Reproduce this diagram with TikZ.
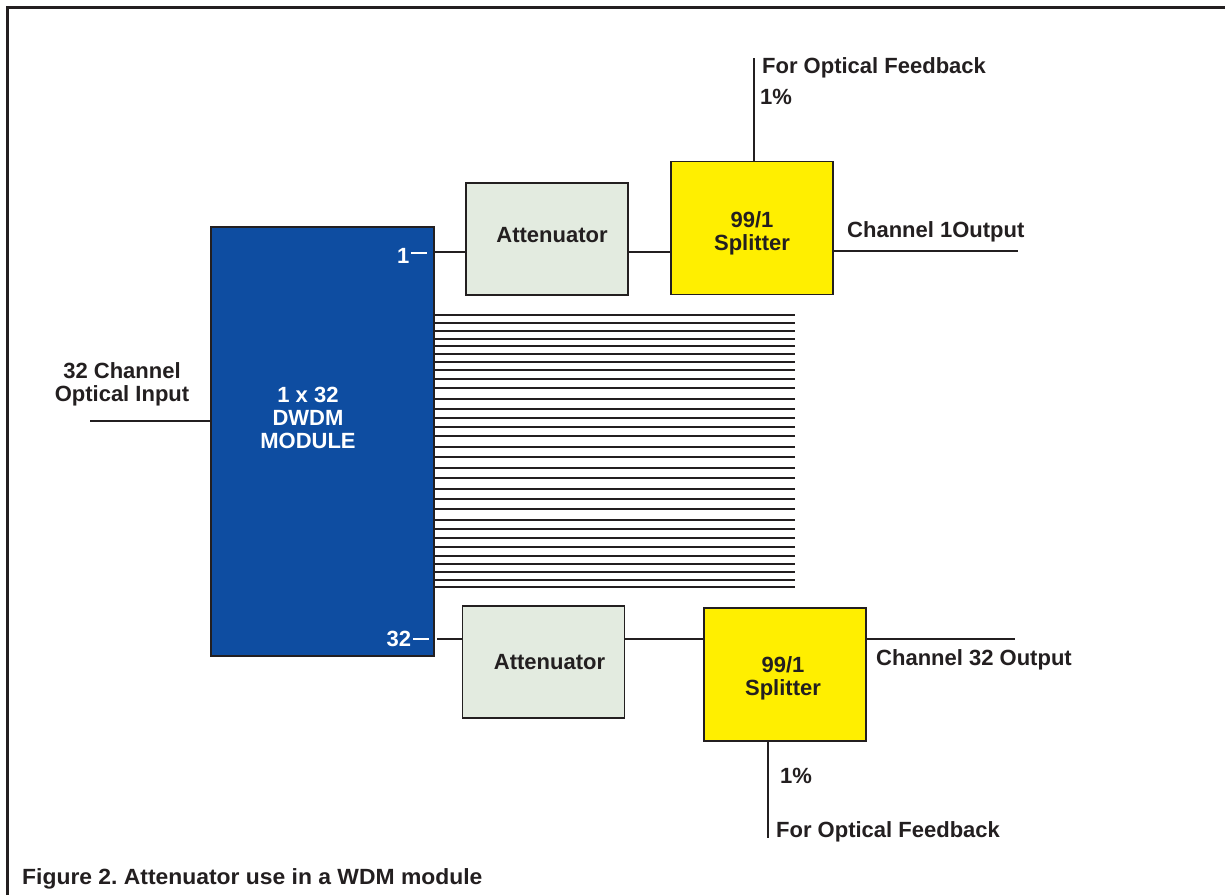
\documentclass[tikz,border=0pt]{standalone}
\usepackage{fontspec}
\setmainfont{Liberation Sans}
\frenchspacing
\definecolor{ink}{RGB}{35,31,32}
\definecolor{dwdmblue}{RGB}{14,77,161}
\definecolor{attfill}{RGB}{227,235,224}
\definecolor{splityellow}{RGB}{255,239,0}
\begin{document}
\begin{tikzpicture}[x=1pt,y=-1pt,
  lbl/.style={font=\fontsize{22}{23}\selectfont\bfseries, text=ink, inner sep=0pt, align=left},
  boxbase/.style={draw=ink, line width=1.8pt, inner sep=0pt},
  boxtext/.style={lbl, align=center},
  attbox/.style={boxbase, fill=attfill, minimum width=162pt, minimum height=112pt},
  splitbox/.style={boxbase, fill=splityellow, minimum width=162pt, minimum height=133pt},
  wire/.style={draw=ink, line width=1.8pt},
  busline/.style={draw=ink, line width=1.8pt},
  whitedash/.style={draw=white, line width=1.8pt}]
\useasboundingbox (0,0) rectangle (1225,895);
\fill[white] (0,0) rectangle (1225,895);
% frame
\draw[ink, line width=2.6pt] (7.5,895) -- (7.5,7.5) -- (1225,7.5);

% DWDM module
\node[draw=ink, line width=1.8pt, fill=dwdmblue, minimum width=223pt, minimum height=429pt, inner sep=0pt] (dwdm) at (322.5,441.5) {};
\node[lbl, text=white, align=center] (dwdmtext) at (308,418) {1 x 32\\DWDM\\MODULE};
\node[lbl, text=white, anchor=west] (port1) at (397,255.5) {1};
\coordinate (p1a) at (411,253);
\coordinate (p1b) at (427,253);
\draw[whitedash] (p1a) -- (p1b);
\node[lbl, text=white, anchor=west] (port32) at (386.5,638.5) {32};
\coordinate (p32a) at (413,639);
\coordinate (p32b) at (429,639);
\draw[whitedash] (p32a) -- (p32b);

% input
\coordinate (inp) at (90,421);
\draw[wire] (inp) -- (dwdm.west |- inp);
\node[lbl, align=center] (inlabel) at (122,384.5) {32 Channel\\Optical Input};

% top chain
\node[attbox, label={[boxtext, xshift=5pt, yshift=4pt]center:Attenuator}] (att1) at (547,239) {};
\node[splitbox, label={[boxtext, yshift=-5pt]center:99/1\\Splitter}] (spl1) at (752,228) {};
\draw[wire] (dwdm.east |- 0,252) -- (att1.west |- 0,252);
\draw[wire] (att1.east |- 0,252) -- (spl1.west |- 0,252);
\coordinate (out1) at (1018,251);
\draw[wire] (spl1.east |- out1) -- (out1);
\node[lbl, anchor=west] (out1label) at (847,232) {Channel 1Output};
\coordinate (fb1) at (754,58);
\draw[wire] (spl1.north -| fb1) -- (fb1);
\node[lbl, anchor=west] (fb1label) at (762,68) {For Optical Feedback};
\node[lbl, anchor=west] (fb1pct) at (760,97) {1\%};

% bottom chain
\node[attbox, label={[boxtext, xshift=6pt]center:Attenuator}] (att2) at (543.5,662) {};
\node[splitbox, label={[boxtext, xshift=-2pt, yshift=-4pt]center:99/1\\Splitter}] (spl2) at (785,674.5) {};
\coordinate (p32c) at (437,639);
\draw[wire] (p32c) -- (att2.west |- p32c);
\draw[wire] (att2.east |- p32c) -- (spl2.west |- p32c);
\coordinate (out32) at (1015,639);
\draw[wire] (spl2.east |- out32) -- (out32);
\node[lbl, anchor=west] (out32label) at (876,660) {Channel 32 Output};
\coordinate (fb2) at (768,838);
\draw[wire] (spl2.south -| fb2) -- (fb2);
\node[lbl, anchor=west] (fb2pct) at (780,776) {1\%};
\node[lbl, anchor=west] (fb2label) at (776,832) {For Optical Feedback};

% bus of channel lines
\foreach \yy in {315,323,330.7,338.7,346.3,354,362,370,379,388,398.7,409,418,427,436,446.7,457,467.7,478,488.7,499,509.3,520,529,538,547,556.3,564,571.7,579.7,587.3}{
  \draw[busline] (dwdm.east |- 0,\yy) -- (795,\yy);
}

% caption
\node[lbl, anchor=west, xscale=1.04, transform shape] (caption) at (22,879) {Figure 2. Attenuator use in a WDM module};
\end{tikzpicture}
\end{document}
